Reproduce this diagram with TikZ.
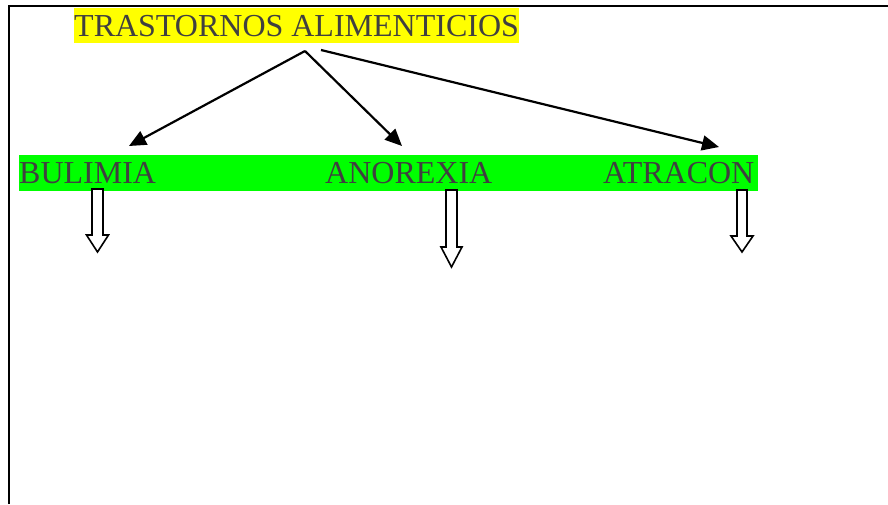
\documentclass[tikz,border=0pt]{standalone}
\usepackage{fontspec}
\setmainfont{Liberation Serif}
\usetikzlibrary{arrows.meta}
\definecolor{txtgray}{HTML}{404040}
\definecolor{hlyellow}{HTML}{FFFF00}
\definecolor{hlgreen}{HTML}{00FF00}
\begin{document}
\begin{tikzpicture}[x=1pt,y=-1pt,
  lbl/.style={inner sep=0pt,anchor=base west,text=txtgray,font=\fontsize{32}{36}\selectfont,text height=28.5pt,text depth=6.9pt},
  link/.style={-{Triangle[length=17pt,width=15pt]},line width=2.2pt},
  hollow/.style={draw=black,fill=white,line width=1.6pt,line join=miter}]
\useasboundingbox (0,0) rectangle (888,504);
\draw[line width=2.6pt] (9,504)--(9,6)--(888,6);

\node[lbl,fill=hlyellow] (tit) at (74,36.5){TRASTORNOS ALIMENTICIOS};

\node[fill=hlgreen,inner sep=0pt,minimum width=739pt,minimum height=36pt,anchor=north west] (band) at (19,155){};
\node[lbl] (bul) at (19,183.5){BULIMIA};
\node[lbl] (ano) at (325,183.5){ANOREXIA};
\node[lbl] (atr) at (603,183.5){ATRACON};

\coordinate (t1) at (305,51);\coordinate (t2) at (321,50);
\coordinate (h1) at (129,146);\coordinate (h2) at (402,146);\coordinate (h3) at (719,147);
\draw[link] (t1)--(h1);
\draw[link] (t1)--(h2);
\draw[link] (t2)--(h3);

\draw[hollow] (92,189)--(103,189)--(103,235)--(108.5,235)--(97.5,252)--(86.5,235)--(92,235)--cycle;
\draw[hollow] (446,190)--(457,190)--(457,247)--(462,247)--(451.5,267)--(441,247)--(446,247)--cycle;
\draw[hollow] (737,190)--(747,190)--(747,236)--(753,236)--(742,252)--(731,236)--(737,236)--cycle;
\end{tikzpicture}
\end{document}
